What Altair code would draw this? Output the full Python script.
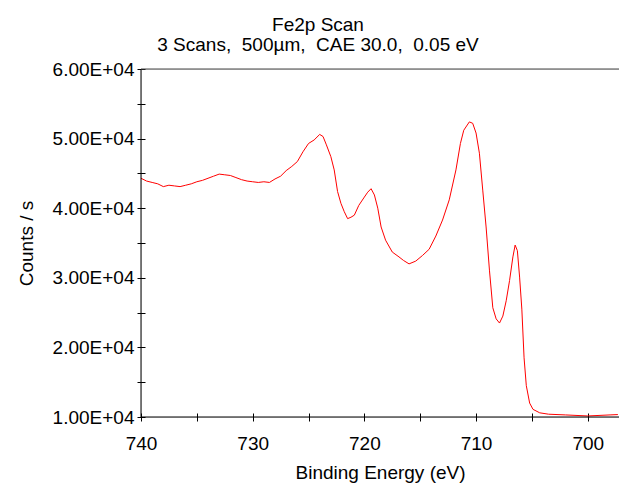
import altair as alt
import pandas as pd

# Binding energy (eV) and counts/s
energy = [740.0, 739.5, 739.0, 738.5, 738.0, 737.5, 737.0, 736.5, 736.0, 735.5,
          735.0, 734.5, 734.0, 733.5, 733.0, 732.5, 732.0, 731.5, 731.0, 730.5,
          730.0, 729.5, 729.0, 728.5, 728.0, 727.5, 727.0, 726.5, 726.0, 725.5,
          725.0, 724.5, 724.0, 723.7, 723.4, 723.0, 722.7, 722.4, 722.1, 721.8,
          721.5, 721.2, 720.9, 720.5, 720.0, 719.7, 719.4, 719.1, 718.8, 718.5,
          718.1, 717.5, 716.9, 716.5, 716.0, 715.4, 714.8, 714.2, 713.6, 713.0,
          712.4, 711.8, 711.4, 711.1, 710.6, 710.3, 710.0, 709.7, 709.4, 709.1,
          708.8, 708.5, 708.2, 707.9, 707.6, 707.3, 707.0, 706.7, 706.5, 706.3,
          706.1, 705.9, 705.7, 705.5, 705.2, 704.9, 704.3, 703.5, 702.0, 700.0,
          698.0, 697.3]
counts = [44300, 43900, 43700, 43500, 43100, 43300, 43200, 43100, 43300, 43500,
          43800, 44000, 44300, 44600, 44900, 44800, 44700, 44400, 44100, 43900,
          43800, 43700, 43800, 43700, 44200, 44600, 45400, 46000, 46700, 48100,
          49300, 49800, 50600, 50300, 49100, 47400, 45500, 42400, 40700, 39500,
          38500, 38700, 39000, 40400, 41600, 42300, 42800, 41900, 40000, 37300,
          35400, 33700, 33000, 32500, 32000, 32400, 33200, 34100, 36000, 38300,
          41200, 45500, 49300, 51200, 52400, 52200, 50800, 47900, 42600, 37300,
          31100, 25700, 24100, 23500, 24500, 26700, 29600, 33000, 34700, 33900,
          30100, 25500, 18500, 14500, 12000, 11100, 10600, 10400, 10300, 10150,
          10300, 10350]

x_ticks = [740, 735, 730, 725, 720, 715, 710, 705, 700]
y_ticks = [10000, 15000, 20000, 25000, 30000, 35000, 40000, 45000, 50000, 55000, 60000]

title_lines = ["Fe2p Scan", "3 Scans,\u00a0 500µm,\u00a0 CAE 30.0,\u00a0 0.05 eV"]

W, H = 478, 348
FONT = "Liberation Sans"
FS = 19

df = pd.DataFrame({"energy": energy, "counts": counts})

xscale = alt.Scale(domain=[697.2, 740], reverse=True, nice=False, zero=False)
yscale = alt.Scale(domain=[10000, 60000], nice=False, zero=False)

line = alt.Chart(df).mark_line(color="#ff0000", strokeWidth=1).encode(
    x=alt.X("energy:Q", scale=xscale,
            axis=alt.Axis(values=x_ticks,
                          labelExpr="datum.value % 10 == 0 ? format(datum.value, 'd') : ''",
                          domain=False, grid=False, ticks=True, tickSize=8,
                          tickColor="black", tickWidth=1, offset=-4,
                          labelPadding=13, labelFontSize=FS, labelFont=FONT,
                          labelColor="black", labelFlush=False, labelOverlap=False,
                          title="Binding Energy (eV)", titleFontSize=FS,
                          titleFont=FONT, titleFontWeight="normal",
                          titleColor="black", titlePadding=10)),
    y=alt.Y("counts:Q", scale=yscale,
            axis=alt.Axis(values=y_ticks,
                          labelExpr="datum.value % 10000 == 0 ? format(datum.value / 10000, '.2f') + 'E+04' : ''",
                          domain=False, grid=False, ticks=True, tickSize=8,
                          tickColor="black", tickWidth=1, offset=-4,
                          labelPadding=3, labelFontSize=FS, labelFont=FONT,
                          labelColor="black", labelFlush=False, labelOverlap=False,
                          title="Counts / s", titleFontSize=FS, titleFont=FONT,
                          titleFontWeight="normal", titleColor="black",
                          titlePadding=16)),
)

one = pd.DataFrame({"a": [0]})
left_line = alt.Chart(one).mark_rule(color="black", strokeWidth=1).encode(
    x=alt.value(0), y=alt.value(0), y2=alt.value(H))
bottom_line = alt.Chart(one).mark_rule(color="black", strokeWidth=1).encode(
    x=alt.value(0), x2=alt.value(W), y=alt.value(H))
top_line = alt.Chart(one).mark_rule(color="#444444", strokeWidth=1).encode(
    x=alt.value(0), x2=alt.value(W), y=alt.value(0))

chart = alt.layer(line, left_line, bottom_line, top_line).properties(
    width=W, height=H,
    title=alt.TitleParams(text=title_lines, fontSize=FS, fontWeight="normal",
                          font=FONT, color="black", anchor="middle",
                          dx=-62, offset=5, lineHeight=20),
    autosize=alt.AutoSizeParams(type="none"),
    padding={"left": 141, "top": 69, "right": 0, "bottom": 74},
).configure_view(stroke=None).configure(background="white")

chart.save("out.html", embed_options={"renderer": "svg", "actions": False})
